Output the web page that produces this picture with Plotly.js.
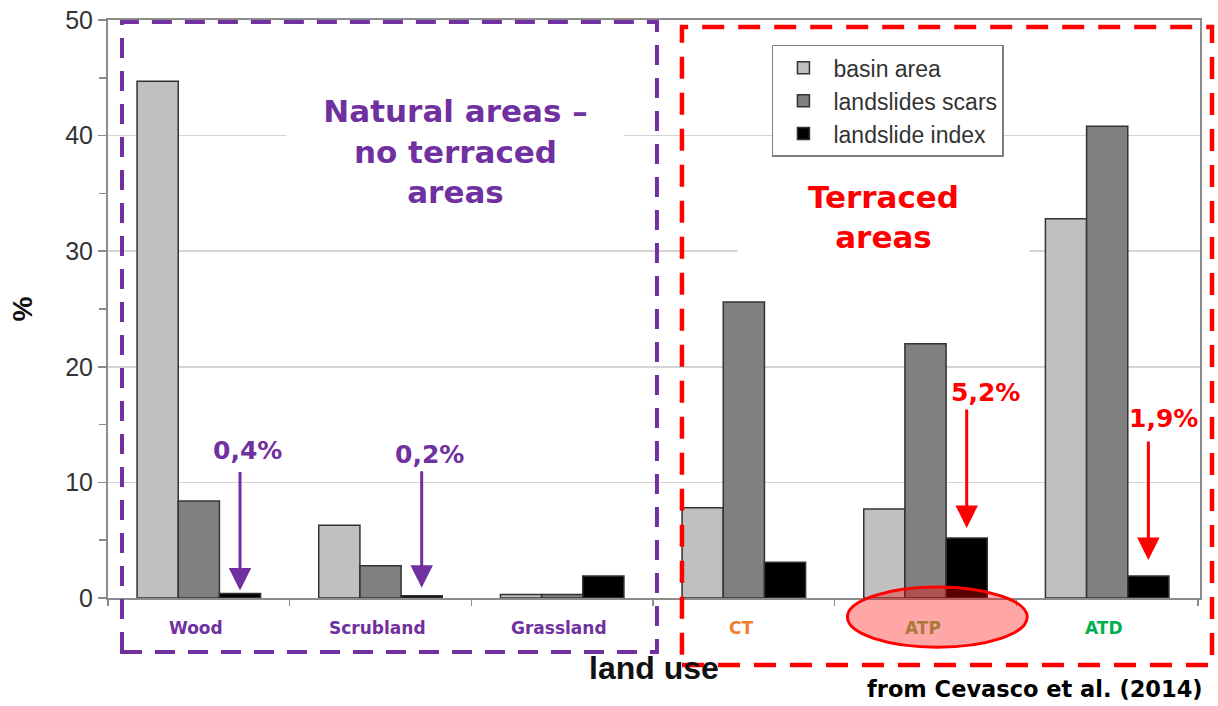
<!DOCTYPE html>
<html>
<head>
<meta charset="utf-8">
<script src="https://cdn.plot.ly/plotly-3.0.1.min.js"></script>
<style>html,body{margin:0;padding:0;background:#fff}#chart{width:1218px;height:706px}</style>
</head>
<body>
<div id="chart"></div>
<script>
// ---- data ----
const categories = ['Wood', 'Scrubland', 'Grassland', 'CT', 'ATP', 'ATD'];
const basinArea = [44.7, 6.3, 0.3, 7.8, 7.7, 32.8];
const landslideScars = [8.4, 2.8, 0.3, 25.6, 22.0, 40.8];
const landslideIndex = [0.4, 0.2, 1.9, 3.1, 5.2, 1.9];
const seriesNames = ['basin area', 'landslides scars', 'landslide index'];
const categoryColors = ['#7030A0', '#7030A0', '#7030A0', '#ED7D31', '#A8793A', '#00B050'];
const calloutCats = ['Wood', 'Scrubland', 'ATP', 'ATD'];
const calloutColors = ['#7030A0', '#7030A0', '#FF0000', '#FF0000'];

// ---- styling / helper geometry ----
const barColors = ['#C0C0C0', '#808080', '#000000'];
const callStyle = {
  // text offset (category units / px above bar top), arrow tail and tip offsets (px)
  Wood:      {tx: 0.27, ty: 143, tail: 123, tip: 3},
  Scrubland: {tx: 0.27, ty: 141, tail: 126, tip: 8},
  ATP:       {tx: 0.33, ty: 145, tail: 130, tip: 10},
  ATD:       {tx: 0.31, ty: 158, tail: 136, tip: 16}
};

const seriesValues = [basinArea, landslideScars, landslideIndex];
const traces = seriesValues.map((vals, i) => ({
  type: 'bar',
  name: seriesNames[i],
  x: categories,
  y: vals,
  marker: {color: barColors[i], line: {color: '#333333', width: 1.5}}
}));

const annotations = [];
// category labels
categories.forEach((c, i) => {
  annotations.push({
    xref: 'x', yref: 'paper', x: c, y: -0.052, xshift: -3, showarrow: false,
    text: '<b>' + c + '</b>',
    font: {family: 'DejaVu Sans, Verdana, sans-serif', size: 17, color: categoryColors[i]},
    xanchor: 'center', yanchor: 'middle'
  });
});
// callouts
calloutCats.forEach((c, k) => {
  const idx = categories.indexOf(c);
  const v = landslideIndex[idx];
  const s = callStyle[c];
  const offset = 0.2267; // third bar center within the group
  annotations.push({
    xref: 'x', yref: 'y', x: idx + offset, y: v, text: '',
    showarrow: true, arrowhead: 2, arrowsize: 1.5, arrowwidth: 3,
    arrowcolor: calloutColors[k], ax: 0, ay: -s.tail, standoff: s.tip
  });
  annotations.push({
    xref: 'x', yref: 'y', x: idx + s.tx, y: v, yshift: s.ty, showarrow: false,
    text: '<b>' + v.toFixed(1).replace('.', ',') + '%</b>',
    font: {family: 'DejaVu Sans, Verdana, sans-serif', size: 25, color: calloutColors[k]},
    xanchor: 'center', yanchor: 'middle'
  });
});
// group titles
annotations.push({
  xref: 'paper', yref: 'paper', x: 0.318, y: 0.773, showarrow: false,
  text: '<b>Natural areas –<br>no terraced<br>areas</b>',
  font: {family: 'DejaVu Sans, Verdana, sans-serif', size: 31, color: '#7030A0'},
  bgcolor: '#ffffff', width: 335, height: 165, align: 'center',
  xanchor: 'center', yanchor: 'middle'
});
annotations.push({
  xref: 'paper', yref: 'paper', x: 0.7106, y: 0.659, showarrow: false,
  text: '<b>Terraced<br>areas</b>',
  font: {family: 'DejaVu Sans, Verdana, sans-serif', size: 31, color: '#FF0000'},
  bgcolor: '#ffffff', width: 289, height: 110, align: 'center',
  xanchor: 'center', yanchor: 'middle'
});
// source
annotations.push({
  xref: 'paper', yref: 'paper', x: 1.005, y: -0.158, showarrow: false,
  text: '<b>from Cevasco et al. (2014)</b>',
  font: {family: 'DejaVu Sans, Verdana, sans-serif', size: 22.5, color: '#000000'},
  xanchor: 'right', yanchor: 'middle'
});

const shapes = [
  {type: 'rect', xref: 'paper', yref: 'paper', x0: 0.0128, x1: 0.5027, y0: -0.0934, y1: 0.9965,
   line: {color: '#7030A0', width: 4, dash: '20px,13px'}, fillcolor: 'rgba(0,0,0,0)', layer: 'above'},
  {type: 'rect', xref: 'paper', yref: 'paper', x0: 0.5256, x1: 1.011, y0: -0.116, y1: 0.988,
   line: {color: '#FF0000', width: 4.5, dash: '22px,14px'}, fillcolor: 'rgba(0,0,0,0)', layer: 'above'},
  {type: 'circle', xref: 'x', yref: 'paper', x0: 3.57, x1: 4.56, y0: -0.085, y1: 0.019,
   line: {color: '#FF0000', width: 3}, fillcolor: 'rgba(255,0,0,0.35)', layer: 'above'}
];

const layout = {
  width: 1218, height: 706,
  margin: {l: 108, r: 18, t: 20, b: 108},
  paper_bgcolor: '#ffffff', plot_bgcolor: '#ffffff',
  barmode: 'group', bargap: 0.32, bargroupgap: 0,
  font: {family: 'Liberation Sans, Arial, sans-serif', color: '#333333'},
  xaxis: {
    type: 'category', showticklabels: false,
    tickson: 'boundaries', ticks: 'outside', ticklen: 6, tickcolor: '#8c8c8c', tickwidth: 1.5,
    showline: true, linecolor: '#8c8c8c', linewidth: 2, mirror: true, showgrid: false,
    title: {text: '<b>land use</b>', standoff: 58, font: {family: 'Liberation Sans, Arial, sans-serif', size: 32, color: '#111111'}}
  },
  yaxis: {
    range: [0, 50], dtick: 10, tick0: 0,
    ticks: 'outside', ticklen: 8, tickcolor: '#8c8c8c', tickwidth: 1.5,
    minor: {dtick: 5, ticks: 'outside', ticklen: 7, tickcolor: '#8c8c8c', showgrid: false},
    showline: true, linecolor: '#8c8c8c', linewidth: 2, mirror: true,
    showgrid: true, gridcolor: '#d4d4d4', gridwidth: 1.5, zeroline: false,
    tickfont: {size: 25, color: '#333333'},
    title: {text: '<b>%</b>', standoff: 24, font: {size: 28, color: '#111111'}}
  },
  legend: {
    x: 0.608, y: 0.957, xanchor: 'left', yanchor: 'top',
    bgcolor: '#ffffff', bordercolor: '#808080', borderwidth: 1.5,
    font: {size: 23, color: '#333333'}, itemwidth: 50, tracegroupgap: 0
  },
  showlegend: true,
  annotations: annotations,
  shapes: shapes
};

Plotly.newPlot('chart', traces, layout, {displayModeBar: false, staticPlot: true});
</script>
</body>
</html>
